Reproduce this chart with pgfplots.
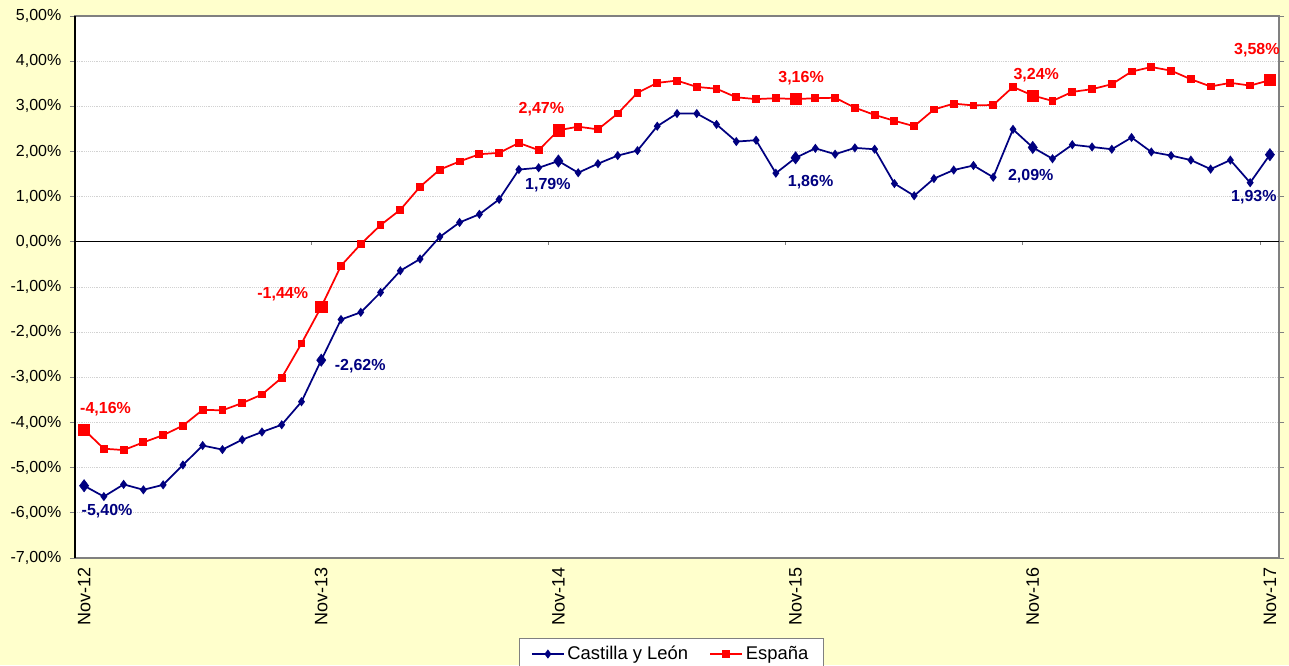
\documentclass[border=0pt]{standalone}
\usepackage{fontspec}
\setmainfont{Liberation Sans}
\usepackage{pgfplots}
\usepackage{pgfplotstable}
\pgfplotsset{compat=1.18}
\definecolor{navyc}{RGB}{0,0,128}
\definecolor{redc}{RGB}{255,0,0}
\definecolor{bgy}{RGB}{255,255,204}

\pgfplotstableread{
x cyl esp
0 -5.40 -4.16
1 -5.64 -4.58
2 -5.37 -4.61
3 -5.49 -4.44
4 -5.38 -4.28
5 -4.94 -4.07
6 -4.51 -3.72
7 -4.60 -3.73
8 -4.38 -3.57
9 -4.21 -3.38
10 -4.05 -3.01
11 -3.54 -2.25
12 -2.62 -1.44
13 -1.72 -0.53
14 -1.56 -0.05
15 -1.12 0.37
16 -0.64 0.71
17 -0.38 1.22
18 0.11 1.60
19 0.43 1.78
20 0.61 1.94
21 0.94 1.97
22 1.60 2.19
23 1.64 2.03
24 1.79 2.47
25 1.53 2.55
26 1.73 2.49
27 1.91 2.84
28 2.02 3.30
29 2.56 3.52
30 2.84 3.57
31 2.84 3.43
32 2.60 3.39
33 2.22 3.20
34 2.25 3.16
35 1.52 3.18
36 1.86 3.16
37 2.07 3.18
38 1.94 3.19
39 2.08 2.97
40 2.05 2.81
41 1.29 2.68
42 1.02 2.56
43 1.40 2.93
44 1.59 3.06
45 1.69 3.02
46 1.43 3.03
47 2.49 3.43
48 2.09 3.24
49 1.84 3.12
50 2.15 3.32
51 2.10 3.38
52 2.05 3.49
53 2.31 3.77
54 1.99 3.87
55 1.91 3.79
56 1.81 3.60
57 1.61 3.44
58 1.81 3.52
59 1.31 3.46
60 1.93 3.58
}\maindata

\pgfplotstableread{
x y dx dy lab
0 -5.40 17.25 -18.75 -5,40
12 -2.62 29.25 -4.5 -2,62
24 1.79 -7.9 -18 1,79
36 1.86 11.25 -18 1,86
48 2.09 -1.5 -21.75 2,09
60 1.93 -12 -31.5 1,93
}\cylhi

\pgfplotstableread{
x y dx dy lab
0 -4.16 16.1 15.75 -4,16
12 -1.44 -28.9 9.75 -1,44
24 2.47 -12.75 15.75 2,47
36 3.16 4.1 15.75 3,16
48 3.24 2.6 15 3,24
60 3.58 -9.75 22.5 3,58
}\esphi

\begin{document}
\begin{tikzpicture}
\fill[bgy] (0,0) rectangle (966.75pt,-498.75pt);
\useasboundingbox (0,0) rectangle (966.75pt,-498.75pt);
\begin{axis}[
  at={(56.25pt,-12pt)}, anchor=north west,
  scale only axis,
  width=903pt, height=406.5pt,
  xmin=-0.46, xmax=60.46,
  ymin=-7, ymax=5,
  axis background/.style={fill=white},
  axis line style={draw=gray, line width=0.8pt},
  ytick={-7,-6,...,5},
  yticklabels={{-7,00\%},{-6,00\%},{-5,00\%},{-4,00\%},{-3,00\%},{-2,00\%},{-1,00\%},{0,00\%},{1,00\%},{2,00\%},{3,00\%},{4,00\%},{5,00\%}},
  yticklabel style={font=\fontsize{12}{13}\selectfont, xshift=-3pt},
  ytick style={draw=gray, line width=0.6pt},
  tick align=outside,
  major tick length=3.75pt,
  xtick={0,12,24,36,48,60},
  xticklabels={Nov-12,Nov-13,Nov-14,Nov-15,Nov-16,Nov-17},
  xtick style={draw=none},
  xticklabel style={rotate=90, anchor=east, font=\fontsize{13.5}{14}\selectfont, yshift=0pt},
  ymajorgrids,
  grid style={gray!35, densely dotted, line width=0.6pt},
  legend style={at={(0.495,-0.1476)}, anchor=north, draw=gray, fill=white,
    font=\fontsize{13.8}{15}\selectfont, legend columns=2,
    /tikz/every even column/.append style={column sep=14pt},
    inner xsep=9pt, inner ysep=4pt},
  legend image code/.code={\draw[#1, mark repeat=2, mark phase=2] plot coordinates {(0pt,0pt) (12pt,0pt) (24pt,0pt)};},
  clip=false,
]
\draw[black, line width=0.9pt] (axis cs:-0.46,-7) -- (axis cs:-0.46,5);
\draw[black, line width=0.9pt] (axis cs:-0.46,0) -- (axis cs:60.46,0);
\pgfplotsinvokeforeach{11.5,23.5,35.5,47.5,59.5}{
  \draw[gray, line width=0.6pt] (axis cs:#1,0) -- (axis cs:#1,-0.07);
}
\addplot[navyc, line width=1.3pt, mark=diamond*, mark size=2.4pt, mark options={solid}] table[x=x, y=cyl] {\maindata};
\addlegendentry{Castilla y León}
\addplot[redc, line width=1.3pt, mark=square*, mark size=2.3pt, mark options={solid}] table[x=x, y=esp] {\maindata};
\addlegendentry{España}

\addplot[navyc, only marks, mark=diamond*, mark size=4.6pt, forget plot,
  nodes near coords={\pgfplotspointmeta\%}, point meta=explicit symbolic,
  visualization depends on={\thisrow{dx}\as\dxv},
  visualization depends on={\thisrow{dy}\as\dyv},
  every node near coord/.append style={anchor=center, xshift=\dxv pt, yshift=\dyv pt,
    font=\fontsize{12}{13}\selectfont\bfseries, text=navyc}]
  table[x=x, y=y, meta=lab] {\cylhi};
\addplot[redc, only marks, mark=square*, mark size=4.2pt, forget plot,
  nodes near coords={\pgfplotspointmeta\%}, point meta=explicit symbolic,
  visualization depends on={\thisrow{dx}\as\dxv},
  visualization depends on={\thisrow{dy}\as\dyv},
  every node near coord/.append style={anchor=center, xshift=\dxv pt, yshift=\dyv pt,
    font=\fontsize{12}{13}\selectfont\bfseries, text=redc}]
  table[x=x, y=y, meta=lab] {\esphi};
\end{axis}
\end{tikzpicture}
\end{document}
